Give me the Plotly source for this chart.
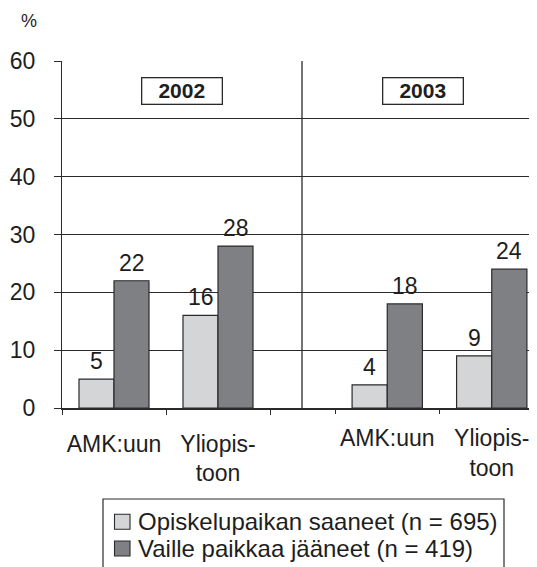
import plotly.graph_objects as go

categories = ["AMK:uun", "Yliopis-<br>toon"]
years = ["2002", "2003"]
saaneet_2002 = [5, 16]
jaaneet_2002 = [22, 28]
saaneet_2003 = [4, 9]
jaaneet_2003 = [18, 24]
series_names = ["Opiskelupaikan saaneet (n = 695)", "Vaille paikkaa jääneet (n = 419)"]
y_ticks = [0, 10, 20, 30, 40, 50, 60]

FONT = "Liberation Sans, Arial, sans-serif"
LIGHT = "#d4d5d7"
DARK = "#7f8084"
LINE = "#2a2a2a"
TXT = "#1e1e1e"

# page body offset (browser default margin) and plot-area geometry in window px
OFF = 8
W, H = 537 - OFF, 567 - OFF
PL, PR, PT, PB = 62 - OFF, 537 - OFF, 61 - OFF, 408 - OFF
PW, PH = PR - PL, PB - PT


def px(xwin):
    return (xwin - OFF - PL) / PW


def py(ywin):
    return (PB - (ywin - OFF)) / PH


fig = go.Figure()
series = [
    ("x", saaneet_2002, LIGHT, series_names[0]),
    ("x", jaaneet_2002, DARK, series_names[1]),
    ("x2", saaneet_2003, LIGHT, series_names[0]),
    ("x2", jaaneet_2003, DARK, series_names[1]),
]
for i, (xa, vals, col, name) in enumerate(series):
    fig.add_trace(go.Bar(
        x=categories, y=vals, xaxis=xa, yaxis="y", name=name,
        marker=dict(color=col, line=dict(color=LINE, width=1.2)),
        offsetgroup=str(i % 2), showlegend=False,
    ))

annotations = []
bar_half_px = 17.5
for xa, vals, side in [("x", saaneet_2002, -1), ("x", jaaneet_2002, 1),
                       ("x2", saaneet_2003, -1), ("x2", jaaneet_2003, 1)]:
    for c, v in zip(categories, vals):
        annotations.append(dict(
            x=c, y=v, xref=xa, yref="y", text=str(v), showarrow=False,
            xshift=side * bar_half_px, xanchor="center", yanchor="bottom",
            yshift=3, font=dict(family=FONT, size=23, color=TXT)))

for yr, xc in zip(years, [182, 423]):
    annotations.append(dict(
        x=px(xc), y=py(90.5), xref="paper", yref="paper", text="<b>%s</b>" % yr,
        xanchor="center", yanchor="middle",
        showarrow=False, width=77, height=23, borderpad=1, borderwidth=1.3,
        bordercolor=LINE, bgcolor="white",
        font=dict(family=FONT, size=21, color=TXT)))

annotations.append(dict(
    x=px(29), y=py(21), xref="paper", yref="paper", xanchor="center",
    yanchor="middle", text="%", showarrow=False,
    font=dict(family=FONT, size=18, color=TXT)))

shapes = [dict(type="line", xref="paper", yref="y", x0=px(302), x1=px(302),
               y0=0, y1=60, line=dict(color=LINE, width=1.3))]

# legend drawn as a boxed key below the chart
shapes.append(dict(type="rect", xref="paper", yref="paper",
                   x0=px(103), x1=px(504), y0=py(499), y1=py(590),
                   line=dict(color=LINE, width=1.2), fillcolor="white",
                   layer="below"))
for name, col, yc in zip(series_names, [LIGHT, DARK], [521.7, 548.5]):
    shapes.append(dict(type="rect", xref="paper", yref="paper",
                       x0=px(114.5), x1=px(130), y0=py(yc + 7.5), y1=py(yc - 7.5),
                       line=dict(color=LINE, width=1.1), fillcolor=col))
    annotations.append(dict(
        x=px(136), y=py(yc), xref="paper", yref="paper", xanchor="left",
        yanchor="middle", text=name, showarrow=False,
        font=dict(family=FONT, size=24, color=TXT)))

fig.update_layout(
    width=W, height=H,
    margin=dict(l=PL, r=W - PR, t=PT, b=H - PB, autoexpand=False),
    paper_bgcolor="white", plot_bgcolor="white",
    barmode="group", bargap=0.327, bargroupgap=0,
    font=dict(family=FONT, size=23, color=TXT),
    annotations=annotations, shapes=shapes, showlegend=False,
    xaxis=dict(type="category", categoryarray=categories, domain=[0, 1],
               range=[-0.5, -0.5 + 475 / 104], tickson="boundaries",
               ticks="outside", ticklen=5, tickcolor=LINE, tickwidth=1.2,
               showline=True, linecolor=LINE, linewidth=1.8, showgrid=False,
               automargin=False, ticklabelstandoff=14,
               tickfont=dict(family=FONT, size=23, color=TXT)),
    xaxis2=dict(type="category", categoryarray=categories, anchor="y",
                domain=[(335 - 62) / 475, 1], range=[-0.5, -0.5 + 202 / 104.5],
                tickson="boundaries", ticks="outside", ticklen=5,
                tickcolor=LINE, tickwidth=1.2, showline=False, showgrid=False,
                automargin=False, ticklabelstandoff=14,
                tickfont=dict(family=FONT, size=23, color=TXT)),
    yaxis=dict(range=[0, 60], tickvals=y_ticks, showgrid=True,
               gridcolor=LINE, gridwidth=1.2, zeroline=False,
               showline=True, linecolor=LINE, linewidth=1.3,
               ticks="outside", ticklen=7, tickcolor=LINE, tickwidth=1.2,
               ticklabelstandoff=14, automargin=False,
               tickfont=dict(family=FONT, size=23, color=TXT)),
)

fig.write_html("out.html")
